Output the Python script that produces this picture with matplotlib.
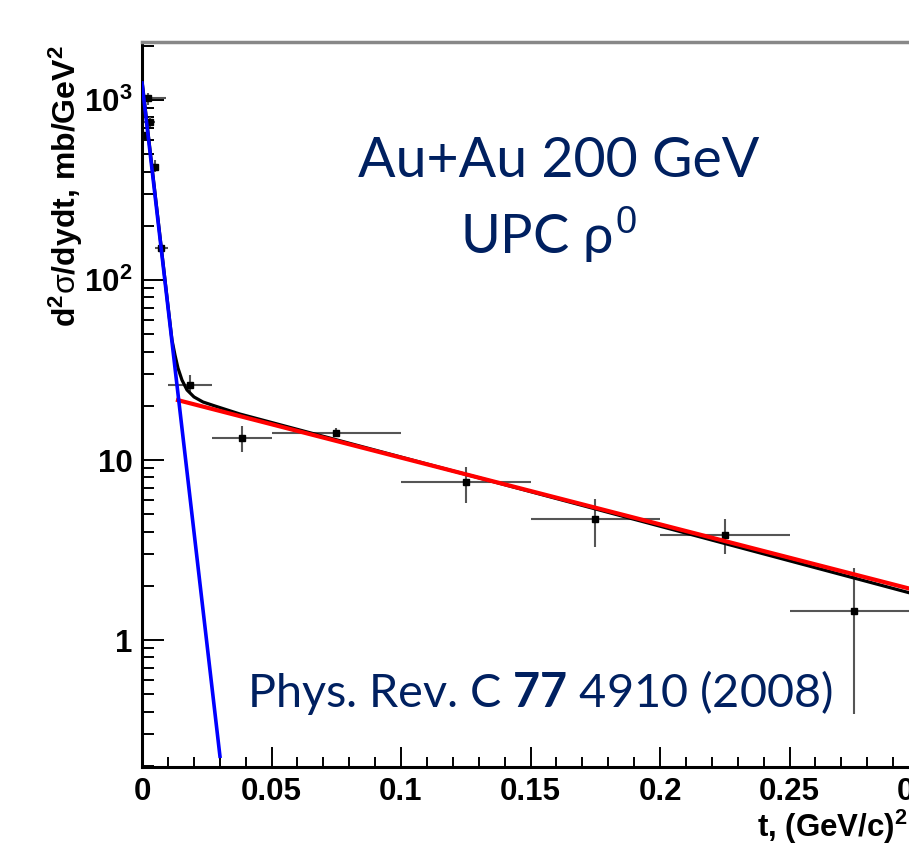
import matplotlib
matplotlib.use('Agg')
import matplotlib.pyplot as plt
from matplotlib.ticker import LogLocator, NullFormatter, MultipleLocator

plt.rcParams['mathtext.fontset'] = 'custom'
plt.rcParams['mathtext.rm'] = 'Liberation Sans'
plt.rcParams['mathtext.sf'] = 'Liberation Sans:bold'
plt.rcParams['mathtext.bf'] = 'Lato:bold'
plt.rcParams['mathtext.it'] = 'Lato'

# ---- data ----
t_pts = [0.0003, 0.0025, 0.0031, 0.0050, 0.0074, 0.0185, 0.0385, 0.075, 0.125, 0.175, 0.225, 0.275]
y_pts = [639, 1022, 757, 426, 150, 26.1, 13.3, 14.1, 7.55, 4.70, 3.83, 1.45]
t_err_lo = [0.0, 0.0025, 0.0027, 0.0010, 0.0025, 0.0085, 0.0115, 0.025, 0.025, 0.025, 0.025, 0.025]
t_err_hi = [0.0, 0.0066, 0.0019, 0.0010, 0.0025, 0.0085, 0.0115, 0.025, 0.025, 0.025, 0.025, 0.025]
y_err_lo = [40, 85, 50, 28, 9, 2.5, 2.2, 0.6, 1.78, 1.41, 0.83, 1.06]
y_err_hi = [40, 70, 50, 38, 10, 3.6, 2.2, 1.0, 1.59, 1.37, 0.87, 1.06]

blue_t = [0.0, 0.0301]
blue_y = [1243, 0.226]
red_t = [0.0139, 0.300]
red_y = [21.5, 1.87]
black_t = [0.0, 0.0100, 0.01158, 0.01274, 0.01390, 0.01544, 0.01737, 0.02008,
           0.02355, 0.02819, 0.03784, 0.300]
black_y = [1291, 72.6, 46.4, 38.3, 32.4, 27.8, 24.5, 22.4, 21.0, 19.95, 18.0, 1.77]

xtick_vals = [0, 0.05, 0.1, 0.15, 0.2, 0.25, 0.3]
xtick_labels = ['0', '0.05', '0.1', '0.15', '0.2', '0.25', '0.3']
ytick_vals = [1, 10, 100, 1000]
ytick_labels = ['1', '10', r'$\mathsf{10^{2}}$', r'$\mathsf{10^{3}}$']

title1 = 'Au+Au 200 GeV'
title2 = r'UPC $\rho^{0}$'
ref_text = r'Phys. Rev. C $\mathbf{77}$ 4910 (2008)'
ylabel = r'$\mathsf{d^{2}}\mathrm{\sigma}\mathsf{/dydt{,}\ mb/GeV^{2}}$'
xlabel = r'$\mathsf{t{,}\ (GeV/c)^{2}}$'

# ---- figure ----
W, H = 909, 855
fig = plt.figure(figsize=(W / 100, H / 100), dpi=100, facecolor='white')
ax = fig.add_axes([142 / W, 88 / H, 777 / W, 725 / H])
ax.set_yscale('log')
ax.set_xlim(0, 0.3)
ax.set_ylim(0.197, 2100)

ax.errorbar(t_pts, y_pts, xerr=[t_err_lo, t_err_hi], yerr=[y_err_lo, y_err_hi],
            fmt='s', color='black', ms=5, ecolor='#555555', elinewidth=1.5,
            capsize=0, zorder=2, clip_on=True)
ax.plot(black_t, black_y, color='black', lw=2.3, zorder=3)
ax.plot(red_t, red_y, color='#ff0000', lw=3.0, zorder=4)
ax.plot(blue_t, blue_y, color='#0000ff', lw=2.6, zorder=5)

ax.set_xticks(xtick_vals)
ax.set_xticklabels(xtick_labels, fontfamily='Liberation Sans', fontweight='bold', fontsize=22.5)
ax.xaxis.set_minor_locator(MultipleLocator(0.01))
ax.set_yticks(ytick_vals)
ax.set_yticklabels(ytick_labels, fontfamily='Liberation Sans', fontweight='bold', fontsize=22.5)
ax.yaxis.set_minor_locator(LogLocator(base=10, subs=range(2, 10)))
ax.yaxis.set_minor_formatter(NullFormatter())

ax.tick_params(axis='x', which='major', direction='in', length=14.4, width=1.4, pad=7)
ax.tick_params(axis='x', which='minor', direction='in', length=7.2, width=1.4)
ax.tick_params(axis='y', which='major', direction='in', length=16, width=1.4, pad=7)
ax.tick_params(axis='y', which='minor', direction='in', length=8.6, width=1.4)

for s in ('left', 'bottom'):
    ax.spines[s].set_linewidth(2.2)
    ax.spines[s].set_color('black')
ax.spines['top'].set_color('#888888')
ax.spines['top'].set_linewidth(2.5)
ax.spines['right'].set_visible(False)

navy = '#002060'
fig.text(558.7 / W, 1 - 176.7 / H, title1, fontfamily='Lato', fontsize=40,
         color=navy, ha='center', va='baseline')
fig.text(460 / W, 1 - 253.3 / H, title2, fontfamily='Lato', fontsize=39,
         color=navy, ha='left', va='baseline')
fig.text(247 / W, 1 - 706.7 / H, ref_text, fontfamily='Lato', fontsize=33.7,
         color=navy, ha='left', va='baseline')

fig.text(76 / W, 1 - 45 / H, ylabel, fontsize=23, rotation=90,
         rotation_mode='anchor', ha='right', va='baseline')
fig.text(756.7 / W, 1 - 837 / H, xlabel, fontsize=22.5, ha='left', va='baseline')

fig.savefig('out.png', dpi=100, facecolor='white')
